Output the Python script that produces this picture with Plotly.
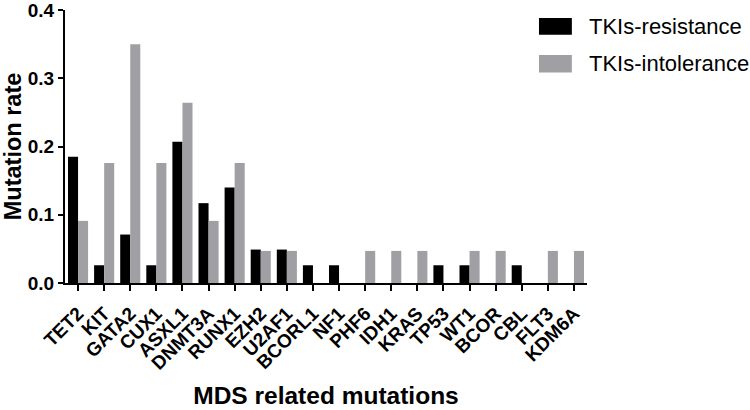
import plotly.graph_objects as go

genes = ["TET2", "KIT", "GATA2", "CUX1", "ASXL1", "DNMT3A", "RUNX1", "EZH2", "U2AF1", "BCORL1",
         "NF1", "PHF6", "IDH1", "KRAS", "TP53", "WT1", "BCOR", "CBL", "FLT3", "KDM6A"]
resistance = [0.185, 0.026, 0.071, 0.026, 0.207, 0.117, 0.140, 0.049, 0.049, 0.026,
              0.026, 0.0, 0.0, 0.0, 0.026, 0.026, 0.0, 0.026, 0.0, 0.0]
intolerance = [0.091, 0.176, 0.350, 0.176, 0.264, 0.091, 0.176, 0.047, 0.047, 0.0,
               0.0, 0.047, 0.047, 0.047, 0.0, 0.047, 0.047, 0.0, 0.047, 0.047]
series_names = ["TKIs-resistance", "TKIs-intolerance"]
colors = ["#000000", "#a0a0a4"]

fig = go.Figure()
fig.add_trace(go.Bar(x=genes, y=resistance, name=series_names[0], marker_color=colors[0],
                     marker_line_width=0, showlegend=False))
fig.add_trace(go.Bar(x=genes, y=intolerance, name=series_names[1], marker_color=colors[1],
                     marker_line_width=0, showlegend=False))

# custom legend (paper coords; plot spans x 65..587, y 10..283)
legend_rects = [(0.971, 0.909), (0.835, 0.771)]
for (yt, yb), nm, c in zip(legend_rects, series_names, colors):
    fig.add_shape(type="rect", xref="paper", yref="paper",
                  x0=0.908, x1=0.971, y0=yb, y1=yt, fillcolor=c, line_width=0)
    fig.add_annotation(xref="paper", yref="paper", x=1.0, y=(yt + yb) / 2, text=nm,
                       showarrow=False, xanchor="left", yanchor="middle",
                       font=dict(size=22, color="black", family="Liberation Sans, Arial"))

fig.update_layout(
    width=750, height=410,
    margin=dict(l=65, r=163, t=10, b=127),
    plot_bgcolor="white", paper_bgcolor="white",
    barmode="group", bargap=0.23, bargroupgap=0,
    font=dict(family="Liberation Sans, Arial", color="black"),
    xaxis=dict(
        range=[-0.5, 19.5], showline=True, linecolor="black", linewidth=2,
        ticks="outside", ticklen=6, tickwidth=2, tickcolor="black",
        tickangle=-45, tickfont=dict(size=19, weight="bold"), ticklabelstandoff=4,
        title=dict(text="<b>MDS related mutations</b>", font=dict(size=24.5), standoff=14),
        showgrid=False, zeroline=False, automargin=False,
    ),
    yaxis=dict(
        range=[0, 0.4], tickvals=[0, 0.1, 0.2, 0.3, 0.4], ticktext=["0.0", "0.1", "0.2", "0.3", "0.4"],
        showline=True, linecolor="black", linewidth=2, ticklabeloverflow="allow",
        ticks="outside", ticklen=5, tickwidth=2, tickcolor="black",
        tickfont=dict(size=19, weight="bold"),
        title=dict(text="<b>Mutation rate</b>", font=dict(size=23.5), standoff=9),
        showgrid=False, zeroline=False, automargin=False,
    ),
)

fig.write_html("out.html", config={"displayModeBar": False},
               post_script="document.body.style.margin='0';")
